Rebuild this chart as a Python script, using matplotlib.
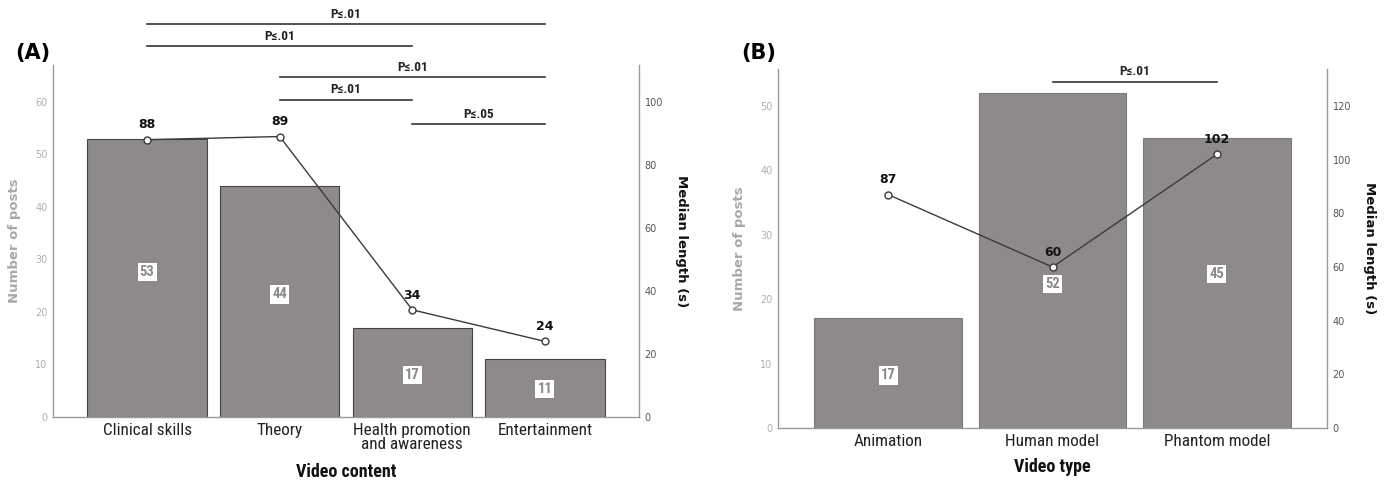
import matplotlib
matplotlib.use("Agg")
import matplotlib.pyplot as plt

# ---- data -------------------------------------------------------------
content_categories = ["Clinical skills", "Theory", "Health promotion\nand awareness", "Entertainment"]
content_posts = [53, 44, 17, 11]
content_median_len = [88, 89, 34, 24]
# pairwise comparisons: (index a, index b, label)
content_pairs = [(0, 3, "P≤.01"), (0, 2, "P≤.01"), (1, 3, "P≤.01"), (1, 2, "P≤.01"), (2, 3, "P≤.05")]

type_categories = ["Animation", "Human model", "Phantom model"]
type_posts = [17, 52, 45]
type_median_len = [87, 60, 102]
type_pairs = [(1, 2, "P≤.01")]

# ---- styling ----------------------------------------------------------
NARROW = ["Liberation Sans Narrow", "DejaVu Sans Condensed", "Roboto Condensed", "Roboto"]
BAR_COLOR = "#8e8a89"
LINE_COLOR = "#3a3a3a"

fig = plt.figure(figsize=(13.87, 4.80), dpi=100)


def panel(rect, cats, posts, med, pairs, left_top, right_top, left_ticks, right_ticks,
          xlim, xlabel, xlabel_y, tag, tag_xy, bracket_y, label_frac, edge):
    ax = fig.add_axes(rect)
    x = list(range(len(cats)))
    ax.bar(x, posts, width=0.9, color=BAR_COLOR, edgecolor=edge, linewidth=0.8, zorder=2)
    ax.set_xlim(*xlim)
    ax.set_ylim(0, left_top)
    ax.set_yticks(left_ticks)
    ax.tick_params(axis="y", length=0, pad=4, labelsize=7, labelcolor="#b0b0b0")
    ax.tick_params(axis="x", length=0, pad=4)
    ax.set_xticks(x)
    ax.set_xticklabels(cats, fontsize=12.3, family=NARROW, color="#222222", linespacing=0.92)
    for s in ("top", "right"):
        ax.spines[s].set_visible(False)
    for s in ("left", "bottom"):
        ax.spines[s].set_color("#9a9a9a")
        ax.spines[s].set_linewidth(1.0)
    ax.set_ylabel("Number of posts", fontsize=9.5, fontweight="bold", color="#a8a8a8", labelpad=10)
    ax.set_xlabel(xlabel, fontsize=13, fontweight="bold", family=NARROW, color="#111111")
    ax.xaxis.set_label_coords(0.5, xlabel_y)

    # counts shown inside bars
    for xi, v, f in zip(x, posts, label_frac):
        ax.text(xi, v * f, str(v), ha="center", va="center", fontsize=10.5, color="#8a8a8a",
                fontweight="bold", family=NARROW, zorder=4,
                bbox=dict(boxstyle="square,pad=0.15", fc="white", ec="none"))

    ax2 = ax.twinx()
    ax2.set_ylim(0, right_top)
    ax2.set_yticks(right_ticks)
    ax2.tick_params(axis="y", length=0, pad=4, labelsize=7, labelcolor="#555555")
    for s in ("top", "left", "bottom"):
        ax2.spines[s].set_visible(False)
    ax2.spines["right"].set_color("#9a9a9a")
    ax2.spines["right"].set_linewidth(1.0)
    ax2.plot(x, med, color=LINE_COLOR, lw=1.0, marker="o", ms=5, mfc="white",
             mec=LINE_COLOR, mew=1.0, zorder=5)
    for xi, v in zip(x, med):
        ax2.annotate(str(v), (xi, v), xytext=(0, 6), textcoords="offset points",
                     ha="center", va="bottom", fontsize=9, fontweight="bold", color="#111111")
    ax2.set_ylabel("Median length (s)", fontsize=9.5, fontweight="bold", color="#111111",
                   rotation=-90, labelpad=18)

    # significance brackets
    for (a, b, txt), yb in zip(pairs, bracket_y):
        ax2.plot([a, b], [yb, yb], color="#333333", lw=1.2, clip_on=False, zorder=6)
        ax2.annotate(txt, ((a + b) / 2, yb), xytext=(0, 2.5), textcoords="offset points",
                     ha="center", va="bottom", fontsize=9.5, fontweight="bold",
                     family=NARROW, color="#222222", annotation_clip=False)

    fig.text(tag_xy[0], tag_xy[1], tag, fontsize=15, fontweight="bold", ha="center", va="center")
    return ax, ax2


panel([53 / 1387, 1 - 417 / 480, 586 / 1387, 352 / 480],
      content_categories, content_posts, content_median_len, content_pairs,
      left_top=67.0, right_top=111.7,
      left_ticks=[0, 10, 20, 30, 40, 50, 60], right_ticks=[0, 20, 40, 60, 80, 100],
      xlim=(-0.71, 3.71), xlabel="Video content", xlabel_y=(417 - 463) / 352,
      tag="(A)", tag_xy=(33 / 1387, 1 - 53 / 480),
      bracket_y=[124.7, 117.7, 107.9, 100.7, 92.9],
      label_frac=[0.52, 0.53, 0.47, 0.48], edge="#444444")

panel([778 / 1387, 1 - 428 / 480, 549 / 1387, 359 / 480],
      type_categories, type_posts, type_median_len, type_pairs,
      left_top=55.7, right_top=133.8,
      left_ticks=[0, 10, 20, 30, 40, 50], right_ticks=[0, 20, 40, 60, 80, 100, 120],
      xlim=(-0.67, 2.67), xlabel="Video type", xlabel_y=(428 - 458) / 359,
      tag="(B)", tag_xy=(759 / 1387, 1 - 53 / 480),
      bracket_y=[129.0],
      label_frac=[0.48, 0.43, 0.53], edge="#7a7a7a")

fig.savefig("out.png", dpi=100, facecolor="white")
